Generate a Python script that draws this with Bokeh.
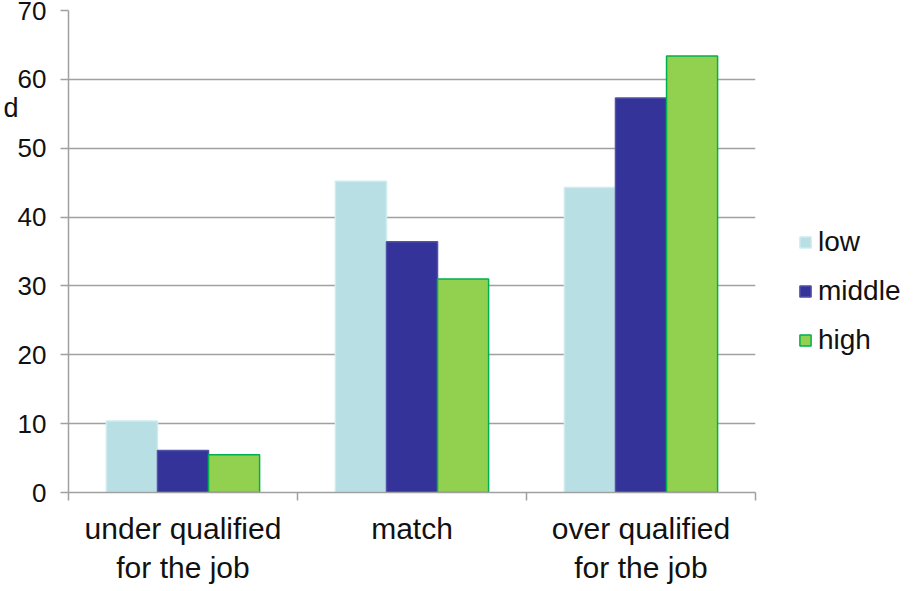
from bokeh.plotting import figure
from bokeh.models import FixedTicker, Legend, LegendItem, Range1d, ColumnDataSource
from bokeh.embed import file_html
from bokeh.resources import INLINE

categories = ["under qualified\nfor the job", "match", "over qualified\nfor the job"]
series = ["low", "middle", "high"]
low = [10.4, 45.2, 44.3]
middle = [6.1, 36.4, 57.3]
high = [5.5, 31.0, 63.4]
y_ticks = [0, 10, 20, 30, 40, 50, 60, 70]
y_label_fragment = "d"   # visible remnant of the (cut off) y-axis label

fills = ["#B8DFE3", "#333399", "#92D050"]
lines = ["#CFEBEE", "#5252AA", "#00B050"]

FONT = "Liberation Sans"

p = figure(width=922, height=591, frame_width=687, frame_height=482,
           output_backend="svg", toolbar_location=None,
           x_range=Range1d(0, 3), y_range=Range1d(0, 70),
           min_border_left=68, min_border_right=0, min_border_top=10, min_border_bottom=0)
p.outline_line_color = None
p.background_fill_color = "white"
p.border_fill_color = "white"

bw = 0.223
offsets = [-bw, 0, bw]
renderers = []
for vals, off, fc, lc, name in zip([low, middle, high], offsets, fills, lines, series):
    xs = [i + 0.5 + off for i in range(len(categories))]
    src = ColumnDataSource(dict(x=xs, top=vals))
    r = p.vbar(x="x", top="top", width=bw, bottom=0, source=src,
               fill_color=fc, line_color=lc, line_width=1.5)
    renderers.append((name, r))

# y axis
p.yaxis.ticker = FixedTicker(ticks=y_ticks)
p.yaxis.axis_line_color = "#A0A0A0"
p.yaxis.axis_line_width = 1.5
p.yaxis.major_tick_line_color = "#A0A0A0"
p.yaxis.major_tick_line_width = 1.5
p.yaxis.major_tick_out = 8
p.yaxis.major_tick_in = 0
p.yaxis.minor_tick_line_color = None
p.yaxis.major_label_text_font = FONT
p.yaxis.major_label_text_font_size = "26px"
p.yaxis.major_label_text_color = "#111111"
p.yaxis.major_label_standoff = 14
p.yaxis.axis_label = y_label_fragment + "\n " * 8
p.yaxis.axis_label_orientation = "horizontal"
p.yaxis.axis_label_standoff = -4
p.yaxis.axis_label_text_font = FONT
p.yaxis.axis_label_text_font_size = "27px"
p.yaxis.axis_label_text_font_style = "normal"
p.yaxis.axis_label_text_color = "#111111"

# x axis
p.xaxis.ticker = FixedTicker(ticks=[0.5, 1.5, 2.5], minor_ticks=[0, 1, 2, 3])
p.xaxis.major_label_overrides = {0.5: categories[0], 1.5: categories[1], 2.5: categories[2]}
p.xaxis.axis_line_color = "#A0A0A0"
p.xaxis.axis_line_width = 1.5
p.xaxis.major_tick_line_color = None
p.xaxis.minor_tick_line_color = "#A0A0A0"
p.xaxis.minor_tick_line_width = 1.5
p.xaxis.minor_tick_out = 8
p.xaxis.minor_tick_in = 0
p.xaxis.major_label_text_font = FONT
p.xaxis.major_label_text_font_size = "30px"
p.xaxis.major_label_text_color = "#111111"
p.xaxis.major_label_standoff = 11

# grid
p.xgrid.grid_line_color = None
p.ygrid.grid_line_color = "#A0A0A0"
p.ygrid.grid_line_width = 1.5

legend = Legend(items=[LegendItem(label=n, renderers=[r]) for n, r in renderers],
                location=(43, 136), orientation="vertical",
                glyph_width=14, glyph_height=14, label_standoff=6,
                label_text_font=FONT, label_text_font_size="28px",
                label_text_color="#111111", label_height=24, spacing=17,
                padding=0, margin=0, border_line_color=None,
                background_fill_alpha=0)
p.add_layout(legend, "right")

open("out.html", "w").write(file_html(p, INLINE))
